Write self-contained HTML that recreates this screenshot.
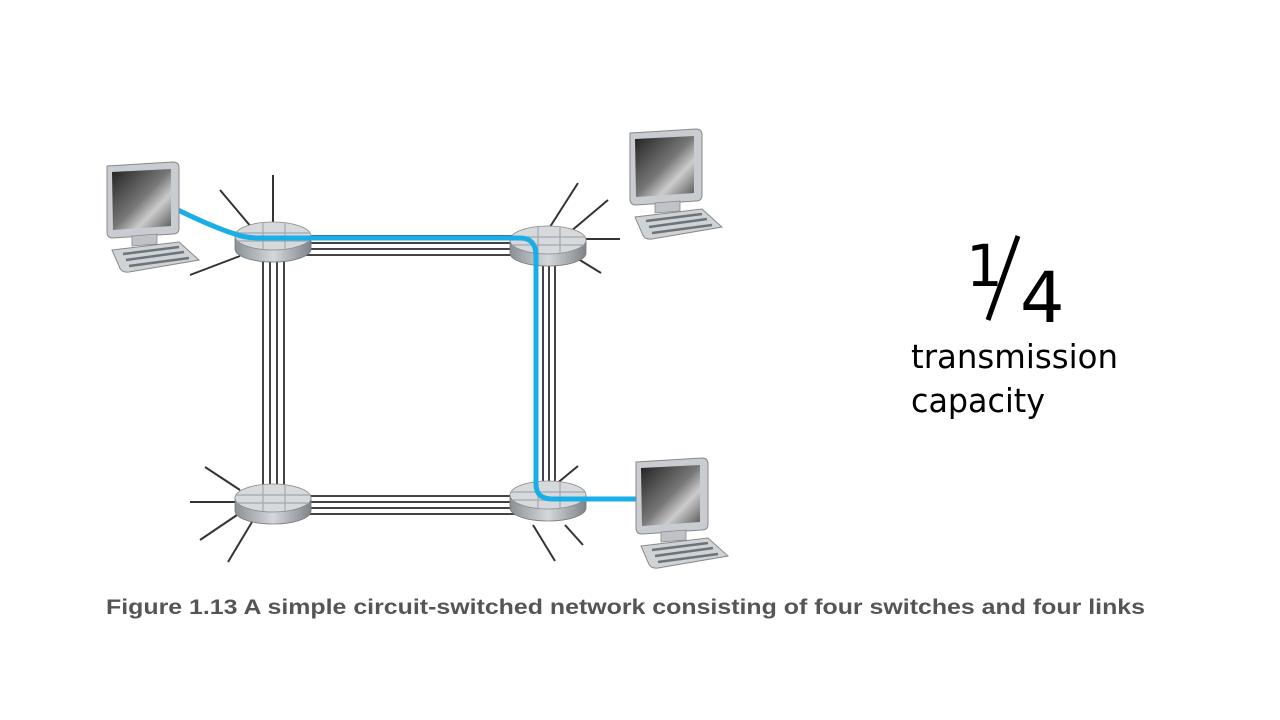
<!DOCTYPE html>
<html><head><meta charset="utf-8"><style>
html,body{margin:0;padding:0;background:#fff;width:1280px;height:720px;overflow:hidden}
</style></head><body>
<svg width="1280" height="720" viewBox="0 0 1280 720" xmlns="http://www.w3.org/2000/svg">
<defs>
<linearGradient id="scr" x1="0" y1="0" x2="1" y2="1">
<stop offset="0" stop-color="#222"/><stop offset="0.5" stop-color="#777"/><stop offset="0.7" stop-color="#ccc"/><stop offset="1" stop-color="#555"/>
</linearGradient>
<linearGradient id="side" x1="0" y1="0" x2="1" y2="0">
<stop offset="0" stop-color="#8a9096"/><stop offset="0.5" stop-color="#d5d8db"/><stop offset="1" stop-color="#7d848a"/>
</linearGradient>
<g id="sw">
<path d="M-38,0 L-38,13 A38,13 0 0 0 38,13 L38,0 Z" fill="url(#side)" stroke="#777" stroke-width="0.8"/>
<ellipse cx="0" cy="0" rx="38" ry="14" fill="#d7dadd" stroke="#888" stroke-width="0.8"/>
<path d="M-10,-13.5 L-10,13.5 M12,-13.5 L12,13.5 M-37,-3 L37,-3 M-36,5 L36,5" stroke="#a3a8ad" stroke-width="1.2" fill="none"/>
</g>
<g id="pc">
<path d="M0,0 L66,-4 Q72,-4 72,2 L72,62 Q72,68 66,68 L6,72 Q0,72 0,66 Z" fill="#c9ccd0" stroke="#888"/>
<path d="M5,6 L64,3 L64,60 L6,64 Z" fill="url(#scr)"/>
<path d="M25,70 L50,68 L50,78 L25,80 Z" fill="#bfc3c7" stroke="#888" stroke-width="0.8"/>
<path d="M5,84 L72,76 L92,94 L22,106 Q14,107 12,100 Z" fill="#d0d3d6" stroke="#888"/>
<path d="M16,88 L72,81 M19,94 L77,86 M22,100 L82,92" stroke="#6c7379" stroke-width="2.5"/>
</g>
</defs>
<g stroke="#333" stroke-width="2">
<line x1="220" y1="190" x2="252" y2="228"/><line x1="273" y1="175" x2="273" y2="225"/><line x1="190" y1="275" x2="240" y2="256"/>
<line x1="578" y1="183" x2="548" y2="230"/><line x1="608" y1="200" x2="570" y2="232"/><line x1="620" y1="239" x2="585" y2="239"/><line x1="601" y1="273" x2="575" y2="257"/>
<line x1="205" y1="467" x2="240" y2="490"/><line x1="190" y1="502" x2="235" y2="502"/><line x1="200" y1="540" x2="237" y2="515"/><line x1="228" y1="562" x2="252" y2="522"/>
<line x1="578" y1="466" x2="555" y2="485"/><line x1="583" y1="545" x2="565" y2="525"/><line x1="555" y1="561" x2="533" y2="525"/>
</g>
<g stroke="#444" stroke-width="2" fill="none">
<line x1="305" y1="236" x2="515" y2="236"/><line x1="305" y1="243" x2="515" y2="243"/><line x1="305" y1="249" x2="515" y2="249"/><line x1="305" y1="255" x2="515" y2="255"/>
<line x1="263" y1="258" x2="263" y2="492"/><line x1="270" y1="258" x2="270" y2="492"/><line x1="277" y1="258" x2="277" y2="492"/><line x1="284" y1="258" x2="284" y2="492"/>
<line x1="543" y1="258" x2="543" y2="490"/><line x1="549" y1="258" x2="549" y2="490"/><line x1="555" y1="258" x2="555" y2="490"/>
<line x1="305" y1="496" x2="515" y2="496"/><line x1="305" y1="502" x2="515" y2="502"/><line x1="305" y1="508" x2="515" y2="508"/><line x1="305" y1="514" x2="515" y2="514"/>
</g>
<use href="#sw" x="273" y="236"/>
<use href="#sw" x="548" y="240"/>
<use href="#sw" x="273" y="498"/>
<use href="#sw" x="548" y="495"/>
<path d="M178,210 Q215,228 235,234 Q245,238 260,238 L520,238 Q536,238 536,256 L536,484 Q536,499 552,499 L636,499" stroke="#1aaee8" stroke-width="5" fill="none"/>
<use href="#pc" x="107" y="166"/>
<use href="#pc" x="630" y="133"/>
<use href="#pc" x="636" y="462"/>
<g font-family="'DejaVu Sans','Liberation Sans',sans-serif" fill="#000">
<text x="966" y="286" font-size="58">1</text>
<line x1="1018" y1="236" x2="988" y2="320" stroke="#000" stroke-width="5"/>
<text x="1020" y="322" font-size="70">4</text>
<text x="911" y="368" font-size="33" textLength="207" lengthAdjust="spacingAndGlyphs">transmission</text>
<text x="911" y="412" font-size="33" textLength="134" lengthAdjust="spacingAndGlyphs">capacity</text>
</g>
<text x="106" y="614" font-family="'Liberation Sans',Arial,sans-serif" font-weight="bold" font-size="21" fill="#555" textLength="1039" lengthAdjust="spacingAndGlyphs">Figure 1.13 A simple circuit-switched network consisting of four switches and four links</text>
</svg>
</body></html>
